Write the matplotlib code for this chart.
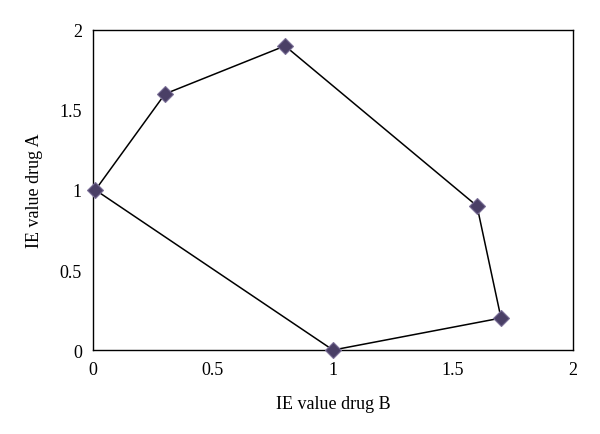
import matplotlib
matplotlib.use("Agg")
import matplotlib.pyplot as plt

drug_b = [0.01, 0.3, 0.8, 1.6, 1.7, 1.0, 0.01]
drug_a = [1.0, 1.6, 1.9, 0.9, 0.2, 0.0, 1.0]
ticks = [0, 0.5, 1, 1.5, 2]
tick_labels = ["0", "0.5", "1", "1.5", "2"]

plt.rcParams['font.family'] = ['Liberation Serif', 'DejaVu Serif']

fig = plt.figure(figsize=(6, 4.35), dpi=100)
ax = fig.add_axes([0.155, 0.193, 0.80, 0.736])
ax.plot(drug_b, drug_a, color='black', lw=1.1, zorder=2)
ax.plot(drug_b[:-1], drug_a[:-1], ls='none', marker='D', ms=8.5,
        mfc='#4a3f66', mec='#7a6e96', mew=0.8, zorder=3, clip_on=False)
ax.set_xlim(0, 2)
ax.set_ylim(0, 2)
ax.set_xticks(ticks)
ax.set_xticklabels(tick_labels)
ax.set_yticks(ticks)
ax.set_yticklabels(tick_labels)
ax.tick_params(length=0, labelsize=13, pad=8)
for s in ax.spines.values():
    s.set_linewidth(1.0)
    s.set_color('black')
ax.set_xlabel("IE value drug B", fontsize=13, labelpad=12)
ax.set_ylabel("IE value drug A", fontsize=13, labelpad=12)
fig.savefig("out.png", dpi=100)
